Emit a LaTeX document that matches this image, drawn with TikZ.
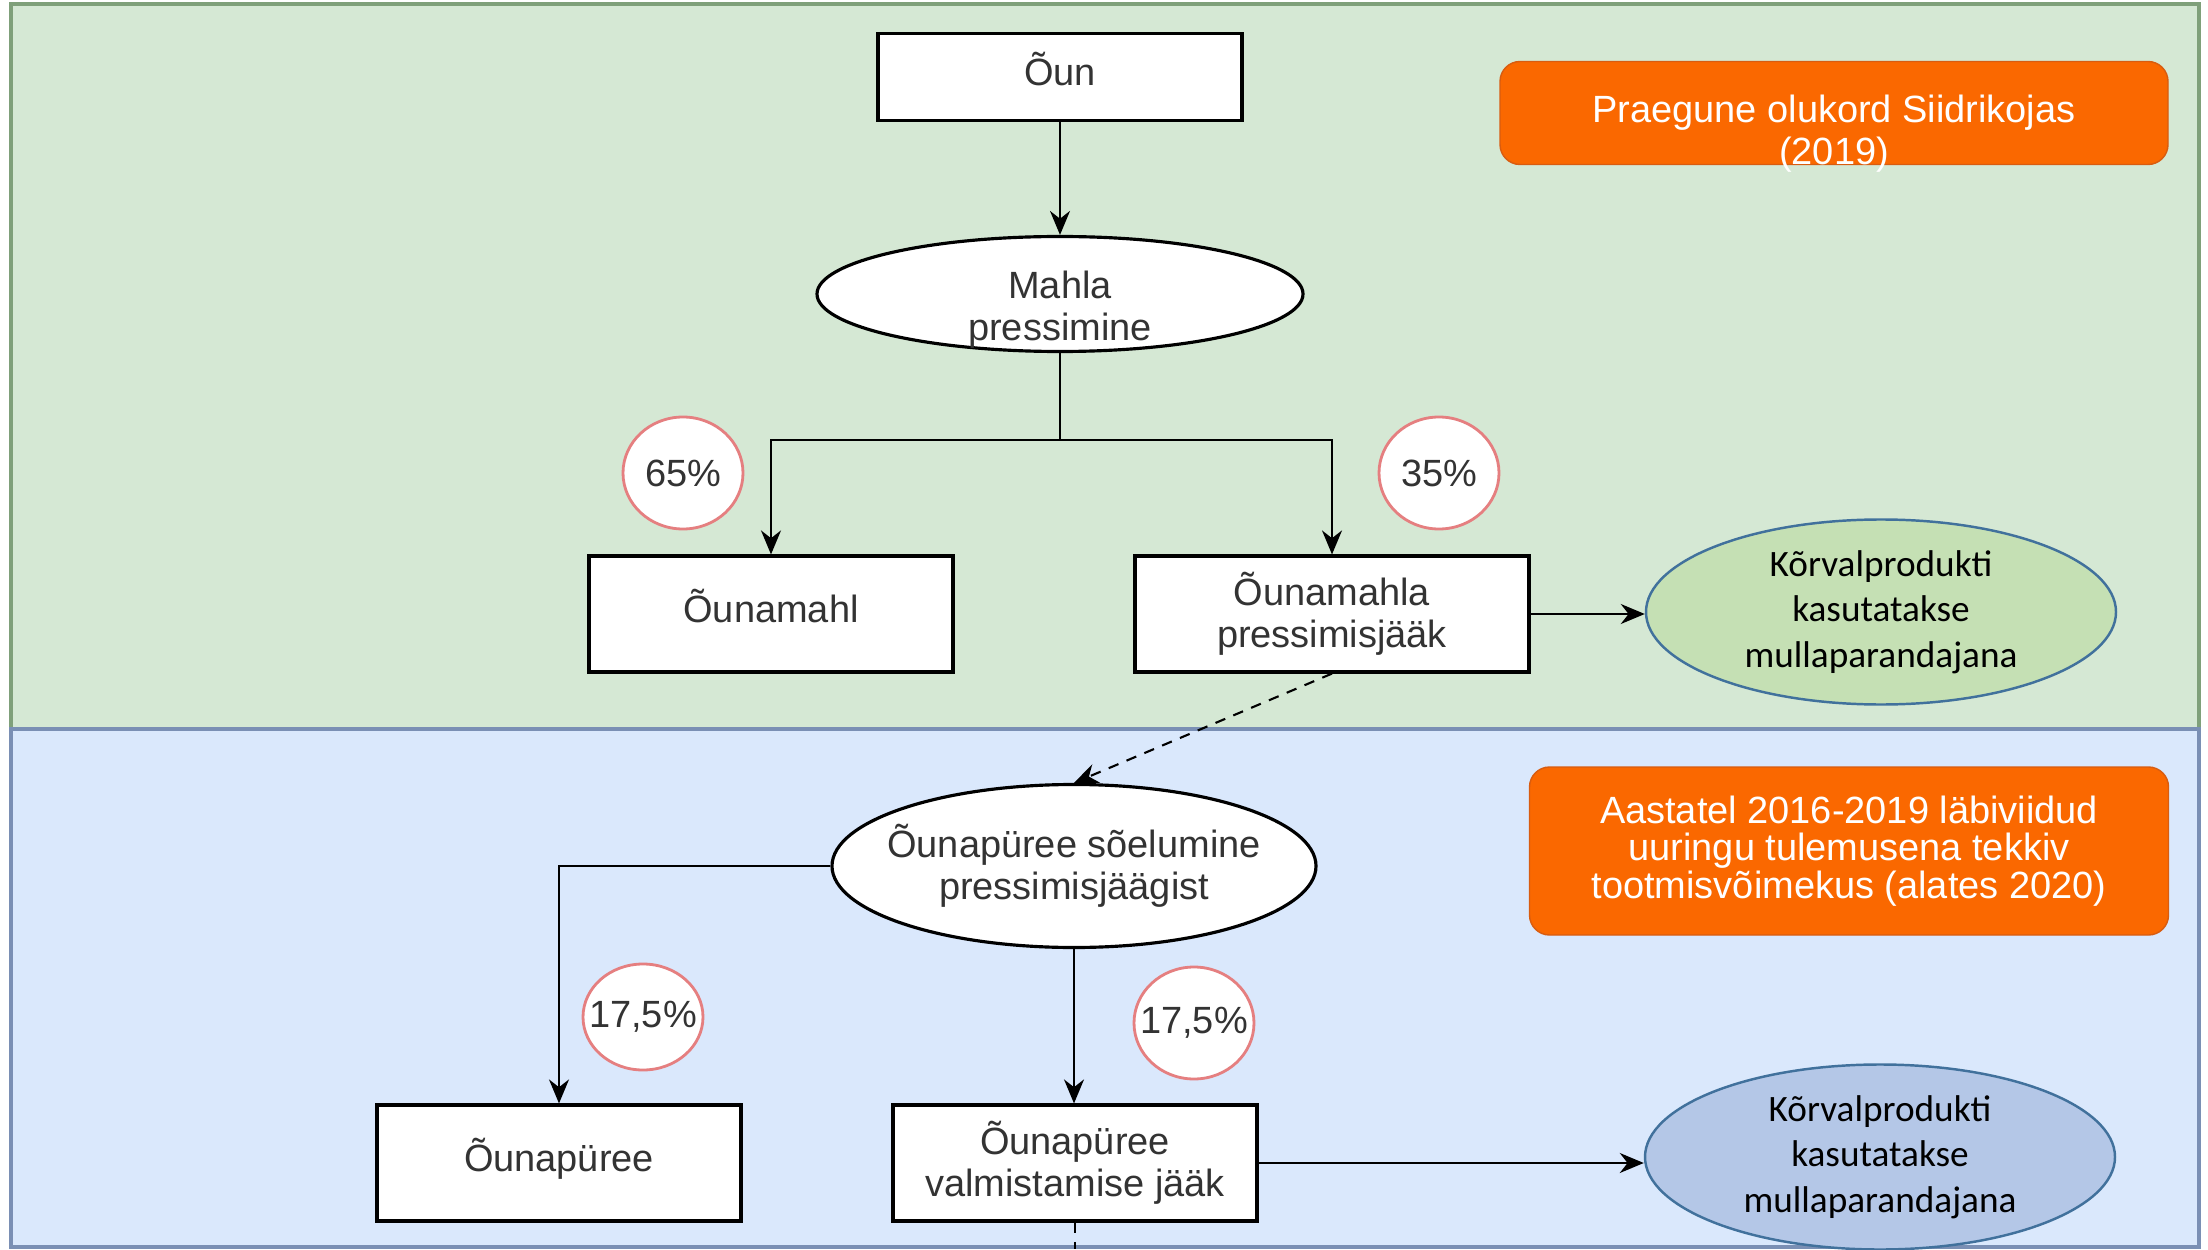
\documentclass[tikz,border=0pt]{standalone}
\usepackage{fontspec}
\setmainfont{Liberation Sans}
\newfontfamily\calibri{Carlito}
\usetikzlibrary{positioning}
\usetikzlibrary{calc}
\usetikzlibrary{shapes.geometric}
\usetikzlibrary{arrows.meta}
\definecolor{nowfill}{HTML}{D5E8D4}
\definecolor{nowline}{HTML}{7FA07A}
\definecolor{laterfill}{HTML}{DAE8FC}
\definecolor{laterline}{HTML}{7A8FB4}
\definecolor{notefill}{HTML}{FA6800}
\definecolor{noteline}{HTML}{D85C10}
\definecolor{shareline}{HTML}{E57F80}
\definecolor{usegreen}{HTML}{C5E0B4}
\definecolor{useblue}{HTML}{B4C7E7}
\definecolor{useline}{HTML}{41719C}
\tikzset{
    % Filled arrow head, close to the one of the drawing tool
    >={Stealth[length=2.4mm, width=2mm]},
%
    % Plain connector between steps
    flow/.style={semithick, ->},
%
    % White text on the orange notes
    note text/.style={text=white, align=center},
%
    % Dashes of the pomace links
    pomace dash/.style={dash pattern=on 3pt off 2.5pt},
%
    % One-line boxes sit their text a little high
    high text/.style={text depth=4.8pt}}

\begin{document}
\begin{tikzpicture}[
    process/.style={draw, line width=0.9pt, fill=white, text=black!80,
        minimum width=3.64cm, minimum height=1.16cm, align=center},
    action/.style={draw, line width=0.9pt, fill=white, text=black!80,
        ellipse, inner sep=0, align=center},
    share/.style={draw=shareline, line width=0.8pt, fill=white, text=black!80,
        ellipse, inner sep=-2mm, minimum width=1.2cm, minimum height=1.12cm},
    use/.style={draw=useline, line width=0.7pt, ellipse, inner sep=0,
        minimum width=4.7cm, minimum height=1.85cm, align=center,
        font=\calibri\fontsize{10.6}{12.9}\selectfont},
    note/.style={draw=noteline, fill=notefill, rounded corners=2mm,
        note text}]
\fontsize{10.8}{12}\selectfont
\useasboundingbox (0,0) rectangle (22.08,12.49);

% Background panels: present state above, new capacity below
\path[draw=nowline, fill=nowfill, line width=1pt]
    (0.11,5.20) rectangle (21.99,12.45);
\path[draw=laterline, fill=laterfill, line width=1pt]
    (0.11,0.02) rectangle (21.99,5.20);


% Present state: juice pressing
\node[process, high text, minimum height=0.87cm] at (10.6,11.72) (apple) {Õun};
\node[action, minimum width=4.86cm, minimum height=1.15cm,
    label={[align=center, text=black!80, yshift=-1.6mm]center:{Mahla\\pressimine}}]
    at (10.6,9.55) (pressing) {};
\node[process, high text] at (7.71,6.35) (juice) {Õunamahl};
\node[process, minimum width=3.94cm] at (13.32,6.35)
    (pomace) {Õunamahla\\pressimisjääk};
\node[share] at (6.83,7.76) (juice share) {65\%};
\node[share] at (14.39,7.76) (pomace share) {35\%};
\node[use, fill=usegreen] at (18.81,6.37)
    (pomace use) {Kõrvalprodukti\\kasutatakse\\mullaparandajana};
\node[note, minimum width=6.68cm, minimum height=1.03cm,
    label={[note text, yshift=-2.1mm]center:{Praegune olukord Siidrikojas\\(2019)}}]
    at (18.34,11.36) (now note) {};

\draw[flow] (apple) -- (pressing);
\coordinate (fork) at ($(pressing.south)+(0,-0.87)$);
\draw[flow] (pressing.south) -- (fork) -| (juice.north);
\draw[flow] (fork) -| (pomace.north);
\draw[flow] (pomace) -- (pomace -| pomace use.west);


% New capacity: puree sieved from the pomace
\node[action, inner xsep=-2mm, minimum width=4.84cm, minimum height=1.63cm]
    at (10.74,3.83) (sieving) {Õunapüree sõelumine\\pressimisjäägist};
\node[process, high text] at (5.59,0.86) (puree) {Õunapüree};
\node[process] at (10.75,0.86) (residue) {Õunapüree\\valmistamise jääk};
\node[share, minimum height=1.06cm] at (6.43,2.32) (puree share) {17,5\%};
\node[share] at (11.94,2.26) (residue share) {17,5\%};
\node[use, fill=useblue] at (18.80,0.92)
    (residue use) {Kõrvalprodukti\\kasutatakse\\mullaparandajana};
\node[note, minimum width=6.39cm, minimum height=1.68cm,
    font=\fontsize{10.8}{10.6}\selectfont]
    at (18.49,3.98) (later note)
    {Aastatel 2016-2019 läbiviidud\\uuringu tulemusena tekkiv\\tootmisvõimekus (alates 2020)};

\draw[flow, pomace dash] (pomace.south) -- (sieving.north);
\draw[flow] (sieving.west) -| (puree.north);
\draw[flow] (sieving.south) -- (sieving.south |- residue.north);
\draw[flow] (residue) -- (residue -| residue use.west);
\coordinate (residue cut) at (residue.south |- 0,0);
\draw[semithick, pomace dash] (residue.south) -- (residue cut);
\end{tikzpicture}
\end{document}
